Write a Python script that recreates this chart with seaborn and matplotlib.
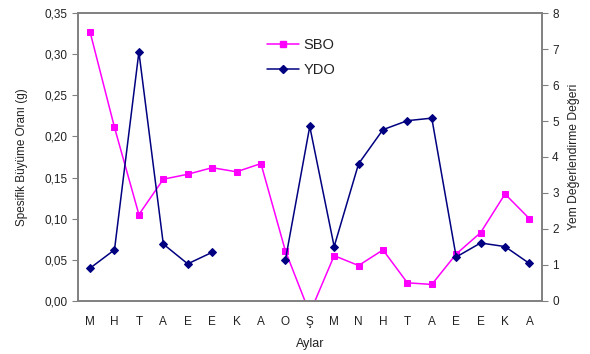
import numpy as np
import pandas as pd
import matplotlib
matplotlib.use("Agg")
import matplotlib.pyplot as plt
from matplotlib.lines import Line2D
from matplotlib.ticker import FuncFormatter
import seaborn as sns

aylar = ["M", "H", "T", "A", "E", "E", "K", "A", "O", "Ş",
         "M", "N", "H", "T", "A", "E", "E", "K", "A"]
sbo = [0.327, 0.211, 0.105, 0.148, 0.154, 0.162, 0.157, 0.167, 0.061, -0.015,
       0.055, 0.043, 0.062, 0.022, 0.020, 0.057, 0.083, 0.130, 0.100]
ydo = [0.91, 1.42, 6.92, 1.58, 1.03, 1.35, np.nan, np.nan, 1.13, 4.85,
       1.51, 3.81, 4.76, 5.01, 5.08, 1.22, 1.61, 1.51, 1.04]

sns.set_style("white")
plt.rcParams['font.family'] = ['Liberation Sans', 'DejaVu Sans']

df = pd.DataFrame({"x": np.arange(len(aylar)), "SBO": sbo, "YDO": ydo})
# YDO has a gap, so split it into segments
df["seg"] = df["YDO"].isna().cumsum()
ydo_df = df.dropna(subset=["YDO"])

pink = "#FF00FF"
navy = "#000080"
grey = "#808080"
txt = "#222222"

fig, ax = plt.subplots(figsize=(5.9, 3.54), dpi=100)
fig.subplots_adjust(left=0.132, right=0.918, top=0.963, bottom=0.150)
ax2 = ax.twinx()

sns.lineplot(data=df, x="x", y="SBO", ax=ax, color=pink, lw=1.1,
             marker="s", markersize=5, markeredgecolor=pink)
sns.lineplot(data=ydo_df, x="x", y="YDO", units="seg", estimator=None, ax=ax2,
             color=navy, lw=1.1, marker="D", markersize=4.5, markeredgecolor=navy)

ax.set_xlim(-0.5, len(aylar) - 0.5)
ax.set_ylim(0, 0.35)
ax2.set_ylim(0, 8)
ax.set_yticks(np.arange(0, 0.351, 0.05))
ax.yaxis.set_major_formatter(FuncFormatter(lambda v, p: f"{v:.2f}".replace(".", ",")))
ax2.set_yticks(range(0, 9))

ax.set_xticks(np.arange(len(aylar)))
ax.set_xticklabels(aylar)
ax.set_xticks(np.arange(-0.5, len(aylar)), minor=True)
ax.tick_params(axis="x", which="major", length=0, pad=11, labelsize=8.5, colors=txt)
ax.tick_params(axis="x", which="minor", length=4, color=grey, direction="out")
ax.tick_params(axis="y", length=4, color=grey, labelsize=8.5, labelcolor=txt, direction="out", left=True)
ax2.tick_params(axis="y", length=4, color=grey, labelsize=8.5, labelcolor=txt, direction="out", right=True)

for a in (ax, ax2):
    for s in a.spines.values():
        s.set_color(grey)
        s.set_linewidth(1.2)

ax.set_xlabel("Aylar", fontsize=9, labelpad=7, color=txt)
ax.set_ylabel("Spesifik Büyüme Oranı (g)", fontsize=8.5, labelpad=12, color=txt)
ax2.set_ylabel("Yem Değerlendirme Değeri", fontsize=8.7, labelpad=7, color=txt)

handles = [Line2D([], [], color=pink, marker="s", markersize=5, lw=1.1),
           Line2D([], [], color=navy, marker="D", markersize=4.5, lw=1.1)]
ax2.legend(handles, ["SBO", "YDO"], loc="upper left", bbox_to_anchor=(0.38, 0.96),
           frameon=False, fontsize=10.5, handlelength=2.2, handletextpad=0.3,
           labelspacing=0.75, labelcolor=txt)

fig.savefig("out.png", dpi=100)
